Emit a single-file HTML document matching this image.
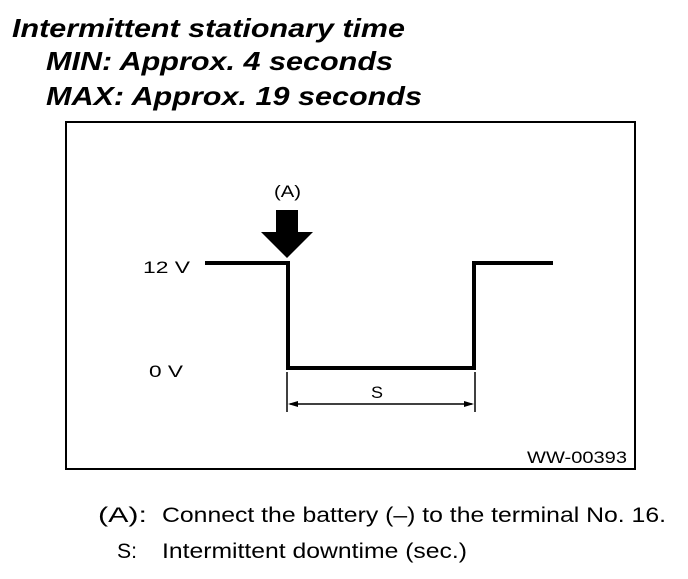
<!DOCTYPE html>
<html><head><style>
body{margin:0;background:#fff;width:688px;height:574px;overflow:hidden;font-family:"Liberation Sans",Arial,sans-serif}
</style></head><body>
<svg width="688" height="574" viewBox="0 0 688 574" xmlns="http://www.w3.org/2000/svg" font-family="Liberation Sans, Arial, sans-serif">
<text x="12" y="37" font-size="26" font-weight="bold" font-style="italic" textLength="393" lengthAdjust="spacingAndGlyphs">Intermittent stationary time</text>
<text x="46" y="70" font-size="26" font-weight="bold" font-style="italic" textLength="347" lengthAdjust="spacingAndGlyphs">MIN: Approx. 4 seconds</text>
<text x="46" y="105" font-size="26" font-weight="bold" font-style="italic" textLength="376" lengthAdjust="spacingAndGlyphs">MAX: Approx. 19 seconds</text>
<rect x="66" y="122" width="569" height="347" fill="none" stroke="#000" stroke-width="2"/>
<polyline points="205,263 288,263 288,368 474,368 474,263 553,263" fill="none" stroke="#000" stroke-width="4"/>
<rect x="276" y="210" width="22" height="23" fill="#000"/>
<polygon points="261,232 313,232 287,258" fill="#000"/>
<text x="274" y="197" font-size="17" textLength="27" lengthAdjust="spacingAndGlyphs">(A)</text>
<text x="143" y="273" font-size="17" textLength="47" lengthAdjust="spacingAndGlyphs">12 V</text>
<text x="149" y="377" font-size="17" textLength="34" lengthAdjust="spacingAndGlyphs">0 V</text>
<text x="371" y="398" font-size="17" textLength="12" lengthAdjust="spacingAndGlyphs">S</text>
<line x1="287" y1="372" x2="287" y2="412" stroke="#000" stroke-width="1.5"/>
<line x1="475" y1="372" x2="475" y2="412" stroke="#000" stroke-width="1.5"/>
<line x1="290" y1="404" x2="472" y2="404" stroke="#000" stroke-width="1.5"/>
<polygon points="288,404 298,401 298,407" fill="#000"/>
<polygon points="474,404 464,401 464,407" fill="#000"/>
<text x="527" y="463" font-size="17" textLength="100" lengthAdjust="spacingAndGlyphs">WW-00393</text>
<text x="98" y="522" font-size="21" textLength="49" lengthAdjust="spacingAndGlyphs">(A):</text>
<text x="162" y="522" font-size="21" textLength="504" lengthAdjust="spacingAndGlyphs">Connect the battery (–) to the terminal No. 16.</text>
<text x="117" y="558" font-size="21" textLength="20" lengthAdjust="spacingAndGlyphs">S:</text>
<text x="162" y="558" font-size="21" textLength="305" lengthAdjust="spacingAndGlyphs">Intermittent downtime (sec.)</text>
</svg>
</body></html>
